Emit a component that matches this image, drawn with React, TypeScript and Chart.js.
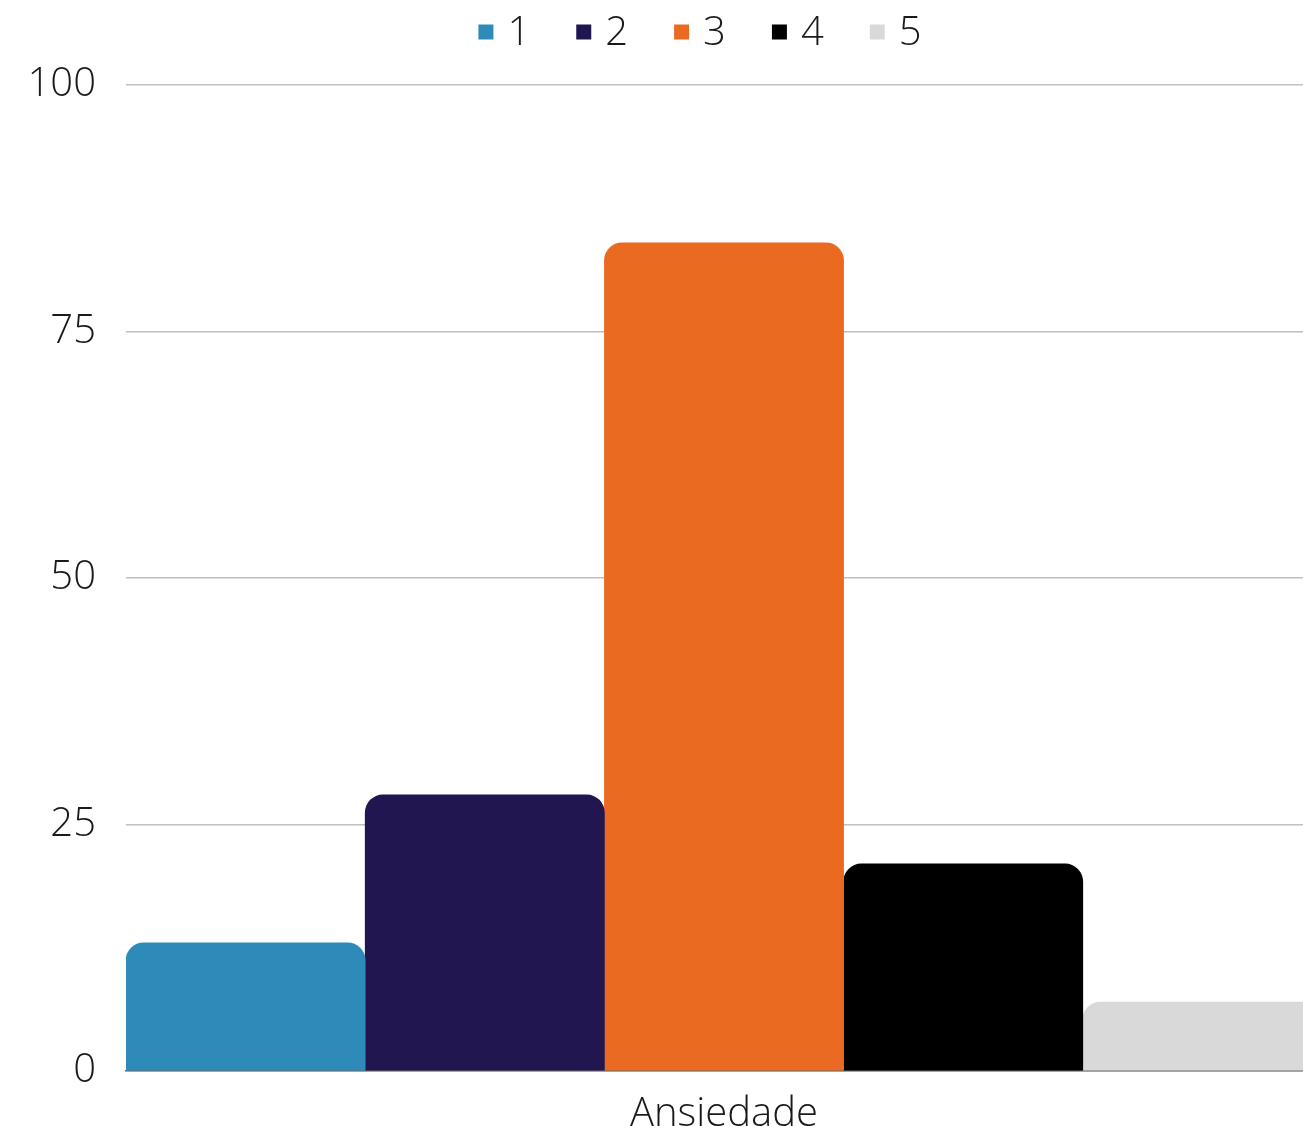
import React, { useEffect, useRef } from "react";
import { Chart, registerables } from "chart.js";

Chart.register(...registerables);

const categories = ["Ansiedade"];
const seriesLabels = ["1", "2", "3", "4", "5"];
const seriesValues = [[13], [28], [84], [21], [7]];
const seriesColors = ["#2E8BB9", "#221651", "#EB6A22", "#000000", "#D9D9D9"];
const yTicks = [0, 25, 50, 75, 100];

const FONT = "'Open Sans', 'Liberation Sans', sans-serif";
const CANVAS_W = 1384;
const CANVAS_H = 1151;

const legendPlugin = {
  id: "customLegend",
  afterDraw(chart: any) {
    const ctx = chart.ctx;
    const datasets = chart.data.datasets;
    const box = 15;
    const gapBoxText = 14;
    const gapItems = 46;
    ctx.save();
    ctx.font = `300 40px ${FONT}`;
    ctx.textBaseline = "middle";
    ctx.textAlign = "left";
    const widths = datasets.map((d: any) => ctx.measureText(d.label).width);
    let total = 0;
    widths.forEach((w: number, i: number) => {
      total += box + gapBoxText + w + (i < widths.length - 1 ? gapItems : 0);
    });
    let x = chart.width / 2 - total / 2;
    const cy = 24;
    datasets.forEach((d: any, i: number) => {
      ctx.fillStyle = d.backgroundColor;
      ctx.fillRect(x, cy - box / 2, box, box);
      x += box + gapBoxText;
      ctx.fillStyle = "#1a1a1a";
      ctx.fillText(d.label, x, cy + 2);
      x += widths[i] + gapItems;
    });
    ctx.restore();
  },
};

export default function App() {
  const ref = useRef<HTMLCanvasElement>(null);
  useEffect(() => {
    if (!ref.current) return;
    const chart = new Chart(ref.current, {
      type: "bar",
      data: {
        labels: categories,
        datasets: seriesLabels.map((l, i) => ({
          label: l,
          data: seriesValues[i],
          backgroundColor: seriesColors[i],
          borderRadius: 18,
          categoryPercentage: 1,
          barPercentage: 1,
        })),
      },
      options: {
        animation: false,
        responsive: false,
        maintainAspectRatio: false,
        layout: { padding: { top: 77, right: 70, left: 0, bottom: 0 } },
        plugins: {
          legend: { display: false },
          tooltip: { enabled: false },
        },
        scales: {
          x: {
            grid: { display: false, drawTicks: false },
            border: { display: true, color: "#6b6b6b", width: 1.5 },
            ticks: {
              padding: 20,
              color: "#1a1a1a",
              font: { family: FONT, size: 40, weight: 300 as any, lineHeight: 1.2 },
            },
          },
          y: {
            min: 0,
            max: 100,
            afterBuildTicks: (axis: any) => {
              axis.ticks = yTicks.map((v) => ({ value: v }));
            },
            afterFit: (axis: any) => {
              axis.width = 118;
            },
            grid: { color: "#c0c0c0", lineWidth: 1.5, drawTicks: false },
            border: { display: false },
            ticks: {
              padding: 30,
              color: "#1a1a1a",
              font: { family: FONT, size: 40, weight: 300 as any, lineHeight: 1.2 },
            },
          },
        },
      },
      plugins: [legendPlugin],
    });
    return () => chart.destroy();
  }, []);
  return (
    <div
      style={{
        position: "fixed",
        left: 8,
        top: 8,
        width: 1295,
        height: 1118,
        overflow: "hidden",
      }}
    >
      <canvas ref={ref} width={CANVAS_W} height={CANVAS_H} style={{ display: "block" }} />
    </div>
  );
}
